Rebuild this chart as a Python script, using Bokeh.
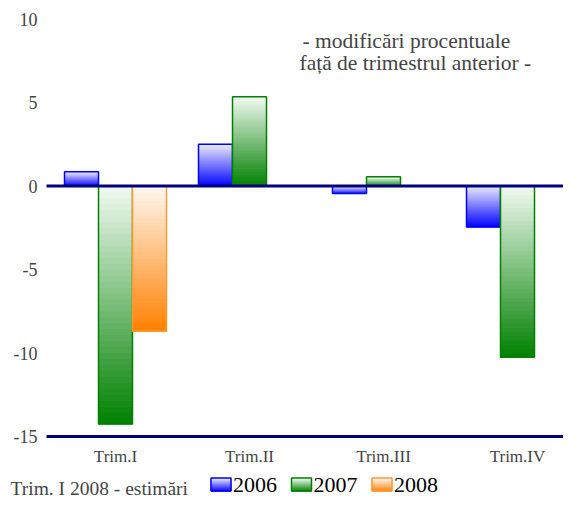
from bokeh.plotting import figure
from bokeh.models import Range1d, FixedTicker, Label
from bokeh.embed import file_html
from bokeh.resources import INLINE
from bokeh.core.properties import value

# ---- data ----
quarters = ["Trim.I", "Trim.II", "Trim.III", "Trim.IV"]
years = ["2006", "2007", "2008"]
v2006 = [0.85, 2.5, -0.45, -2.45]
v2007 = [-14.25, 5.35, 0.55, -10.25]
v2008 = [-8.7, None, None, None]
y_ticks = [-15, -10, -5, 0, 5, 10]
subtitle = ["- modificări procentuale", "față de trimestrul anterior -"]
note = "Trim. I 2008 - estimări"

# ---- styles ----
FONT = "Liberation Serif"
NAVY = "#000080"
styles = [
    ((232, 232, 255), (0, 0, 255), "#0000ff"),
    ((242, 250, 242), (0, 128, 0), "#008000"),
    ((255, 248, 240), (255, 128, 0), "#ff9933"),
]

W, H = 563, 498
PX_X = 134.0   # pixels per category
PX_Y = 16.7    # pixels per percentage point
BW = 34 / PX_X


def dx(px):
    return 0.5 + (px - 115) / PX_X


def dy(py):
    return (185.5 - py) / PX_Y


def hexcol(c):
    return "#%02x%02x%02x" % tuple(int(round(v)) for v in c)


def mix(c0, c1, t):
    return hexcol([a + (b - a) * t for a, b in zip(c0, c1)])


X0, X1 = dx(0), dx(W)
Y0, Y1 = dy(H), dy(0)

p = figure(width=W, height=H, x_range=Range1d(X0, X1), y_range=Range1d(Y0, Y1),
           output_backend="svg", toolbar_location=None,
           min_border_left=0, min_border_right=0, min_border_top=0, min_border_bottom=0)
p.grid.visible = False
p.outline_line_color = None
p.background_fill_color = "white"
p.border_fill_color = "white"

N = 40


def gradient_box(l, r, b, t, light, dark, store):
    h = (t - b) / N
    for k in range(N):
        frac = (k + 0.5) / N  # 0 at bottom -> 1 at top
        store["left"].append(l)
        store["right"].append(r)
        store["bottom"].append(b + k * h)
        store["top"].append(b + (k + 1) * h)
        store["color"].append(mix(dark, light, frac))


series = [v2006, v2007, v2008]
for j, vals in enumerate(series):
    light, dark, edge = styles[j]
    store = dict(left=[], right=[], bottom=[], top=[], color=[])
    outl = dict(left=[], right=[], bottom=[], top=[])
    for i, v in enumerate(vals):
        if v is None:
            continue
        xc = i + 0.5 + (j - 1) * BW
        l, r = xc - BW / 2, xc + BW / 2
        b, t = min(v, 0), max(v, 0)
        gradient_box(l, r, b, t, light, dark, store)
        outl["left"].append(l)
        outl["right"].append(r)
        outl["bottom"].append(b)
        outl["top"].append(t)
    p.quad(left="left", right="right", bottom="bottom", top="top", source=store,
           fill_color="color", line_color="color", line_width=1)
    p.quad(left="left", right="right", bottom="bottom", top="top", source=outl,
           fill_color=None, line_color=edge, line_width=1.5)

    # legend swatch
    sx = 210.5 + 80.5 * j
    sw = dict(left=[], right=[], bottom=[], top=[], color=[])
    gradient_box(dx(sx), dx(sx + 20), dy(490.5), dy(477.5), light, dark, sw)
    p.quad(left="left", right="right", bottom="bottom", top="top", source=sw,
           fill_color="color", line_color="color", line_width=1)
    p.quad(left=[dx(sx)], right=[dx(sx + 20)], bottom=[dy(490.5)], top=[dy(477.5)],
           fill_color=None, line_color=edge, line_width=1.5)
    p.text(x=[dx(sx + 22)], y=[dy(484)], text=[years[j]], text_font=value(FONT),
           text_font_size="22px", text_baseline="middle", text_align="left", text_color="black")

# zero line
p.segment(x0=[dx(46)], y0=[0], x1=[X1], y1=[0], line_color=NAVY, line_width=3)

# axes
xa = p.xaxis[0]
xa.fixed_location = -15
xa.bounds = (dx(46), X1)
xa.ticker = FixedTicker(ticks=[i + 0.5 for i in range(len(quarters))])
xa.major_label_overrides = {i + 0.5: q for i, q in enumerate(quarters)}
xa.axis_line_color = NAVY
xa.axis_line_width = 3
xa.major_tick_line_color = None
xa.minor_tick_line_color = None
xa.major_tick_out = 0
xa.major_tick_in = 0
xa.minor_tick_out = 0
xa.major_label_text_font = FONT
xa.major_label_text_font_size = "17px"
xa.major_label_standoff = 10

ya = p.yaxis[0]
ya.fixed_location = dx(47)
ya.ticker = FixedTicker(ticks=y_ticks)
ya.major_label_overrides = {t: str(t) for t in y_ticks}
ya.axis_line_color = None
ya.major_tick_line_color = None
ya.minor_tick_line_color = None
ya.major_tick_out = 0
ya.major_tick_in = 0
ya.minor_tick_out = 0
ya.major_label_text_font = FONT
ya.major_label_text_font_size = "18px"
ya.major_label_standoff = 10

# subtitle
p.add_layout(Label(x=dx(302), y=dy(40), text=subtitle[0], text_font=FONT, text_font_size="21.5px",
                   text_baseline="middle", text_align="left"))
p.add_layout(Label(x=dx(299), y=dy(62), text=subtitle[1], text_font=FONT, text_font_size="21.5px",
                   text_baseline="middle", text_align="left"))
# note
p.add_layout(Label(x=dx(10), y=dy(488), text=note, text_font=FONT, text_font_size="19.5px",
                   text_baseline="middle", text_align="left"))

open("out.html", "w").write(file_html(p, INLINE))
